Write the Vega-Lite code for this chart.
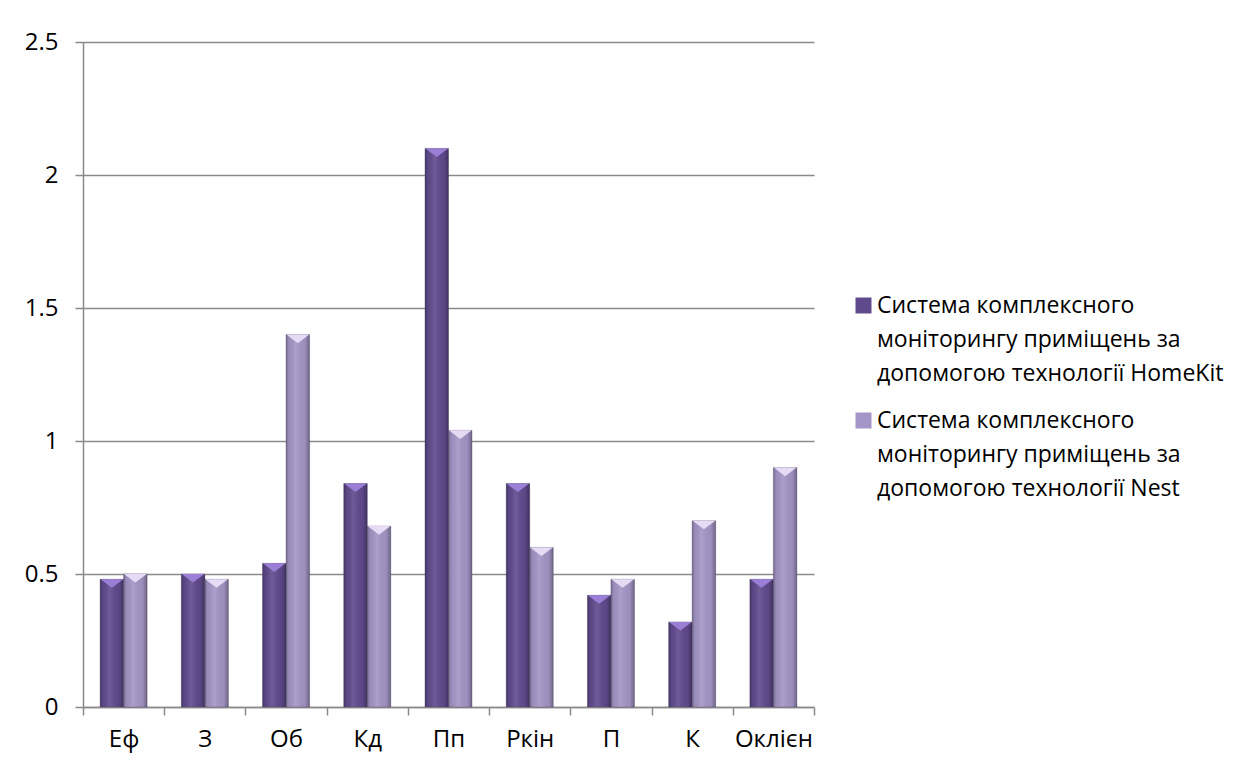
{
  "$schema": "https://vega.github.io/schema/vega-lite/v6.json",
  "autosize": {"type": "none"},
  "width": 731,
  "height": 665,
  "padding": {"left": 83, "top": 42, "right": 430, "bottom": 60},
  "background": "white",
  "data": {
    "values": [
      {"category": "Еф", "series": "Система комплексного\nмоніторингу приміщень за\nдопомогою технології HomeKit", "value": 0.48},
      {"category": "Еф", "series": "Система комплексного\nмоніторингу приміщень за\nдопомогою технології Nest", "value": 0.5},
      {"category": "З", "series": "Система комплексного\nмоніторингу приміщень за\nдопомогою технології HomeKit", "value": 0.5},
      {"category": "З", "series": "Система комплексного\nмоніторингу приміщень за\nдопомогою технології Nest", "value": 0.48},
      {"category": "Об", "series": "Система комплексного\nмоніторингу приміщень за\nдопомогою технології HomeKit", "value": 0.54},
      {"category": "Об", "series": "Система комплексного\nмоніторингу приміщень за\nдопомогою технології Nest", "value": 1.4},
      {"category": "Кд", "series": "Система комплексного\nмоніторингу приміщень за\nдопомогою технології HomeKit", "value": 0.84},
      {"category": "Кд", "series": "Система комплексного\nмоніторингу приміщень за\nдопомогою технології Nest", "value": 0.68},
      {"category": "Пп", "series": "Система комплексного\nмоніторингу приміщень за\nдопомогою технології HomeKit", "value": 2.1},
      {"category": "Пп", "series": "Система комплексного\nмоніторингу приміщень за\nдопомогою технології Nest", "value": 1.04},
      {"category": "Ркін", "series": "Система комплексного\nмоніторингу приміщень за\nдопомогою технології HomeKit", "value": 0.84},
      {"category": "Ркін", "series": "Система комплексного\nмоніторингу приміщень за\nдопомогою технології Nest", "value": 0.6},
      {"category": "П", "series": "Система комплексного\nмоніторингу приміщень за\nдопомогою технології HomeKit", "value": 0.42},
      {"category": "П", "series": "Система комплексного\nмоніторингу приміщень за\nдопомогою технології Nest", "value": 0.48},
      {"category": "К", "series": "Система комплексного\nмоніторингу приміщень за\nдопомогою технології HomeKit", "value": 0.32},
      {"category": "К", "series": "Система комплексного\nмоніторингу приміщень за\nдопомогою технології Nest", "value": 0.7},
      {"category": "Оклієн", "series": "Система комплексного\nмоніторингу приміщень за\nдопомогою технології HomeKit", "value": 0.48},
      {"category": "Оклієн", "series": "Система комплексного\nмоніторингу приміщень за\nдопомогою технології Nest", "value": 0.9}
    ]
  },
  "encoding": {
    "x": {
      "field": "category",
      "type": "nominal",
      "sort": null,
      "scale": {"paddingInner": 0, "paddingOuter": 0},
      "axis": {
        "title": null,
        "labelAngle": 0,
        "tickBand": "extent",
        "tickSize": 8,
        "tickWidth": 1.5,
        "domainWidth": 1.5,
        "labelPadding": 5,
        "domainColor": "#8a8a8a",
        "tickColor": "#8a8a8a"
      }
    },
    "xOffset": {
      "field": "series",
      "type": "nominal",
      "sort": null,
      "scale": {"paddingInner": 0, "paddingOuter": 0.727}
    },
    "y": {
      "field": "value",
      "type": "quantitative",
      "scale": {"domain": [0, 2.5], "nice": false},
      "axis": {
        "title": null,
        "values": [0, 0.5, 1, 1.5, 2, 2.5],
        "format": "~g",
        "tickSize": 8,
        "tickWidth": 1.5,
        "domainWidth": 1.5,
        "gridWidth": 1.5,
        "labelPadding": 17,
        "labelOffset": -7,
        "grid": true,
        "gridColor": "#8a8a8a",
        "domainColor": "#8a8a8a",
        "tickColor": "#8a8a8a"
      }
    }
  },
  "layer": [
    {
      "mark": {"type": "bar", "stroke": "#55496e", "strokeWidth": 0.6, "strokeOpacity": 0.6},
      "encoding": {
        "color": {
          "field": "series",
          "type": "nominal",
          "sort": null,
          "scale": {"range": ["#5f4a8c", "#a395c5"]},
          "legend": {
            "title": null,
            "orient": "none",
            "legendX": 769,
            "legendY": 252,
            "symbolType": "square",
            "symbolSize": 256,
            "symbolStrokeWidth": 0,
            "labelExpr": "split(datum.label, '\\n')",
            "labelBaseline": "alphabetic",
            "labelOffset": 2,
            "labelLimit": 500,
            "rowPadding": 23,
            "padding": 0
          }
        }
      }
    },
    {
      "mark": {
        "type": "bar",
        "fill": {
          "gradient": "linear",
          "x1": 0, "x2": 1, "y1": 0, "y2": 0,
          "stops": [
            {"offset": 0, "color": "rgba(0,0,0,0.28)"},
            {"offset": 0.12, "color": "rgba(0,0,0,0.05)"},
            {"offset": 0.4, "color": "rgba(255,255,255,0.1)"},
            {"offset": 0.8, "color": "rgba(0,0,0,0.04)"},
            {"offset": 1, "color": "rgba(0,0,0,0.32)"}
          ]
        }
      },
      "encoding": {}
    },
    {
      "mark": {
        "type": "point",
        "shape": "M-1,0L1,0L0,0.75Z",
        "filled": true,
        "size": 520,
        "opacity": 1,
        "strokeWidth": 0
      },
      "encoding": {
        "fill": {
          "field": "series",
          "type": "nominal",
          "sort": null,
          "scale": {"range": ["#9b7fd6", "#e6dbf5"]},
          "legend": null
        }
      }
    }
  ],
  "resolve": {"scale": {"fill": "independent"}},
  "config": {
    "view": {"stroke": null},
    "font": "Open Sans",
    "axis": {"labelFont": "Open Sans", "labelFontSize": 24, "labelColor": "#000000"},
    "legend": {"labelFont": "Open Sans", "labelFontSize": 23, "labelColor": "#000000"},
    "style": {"guide-label": {"lineHeight": 34, "dy": 7}}
  }
}
